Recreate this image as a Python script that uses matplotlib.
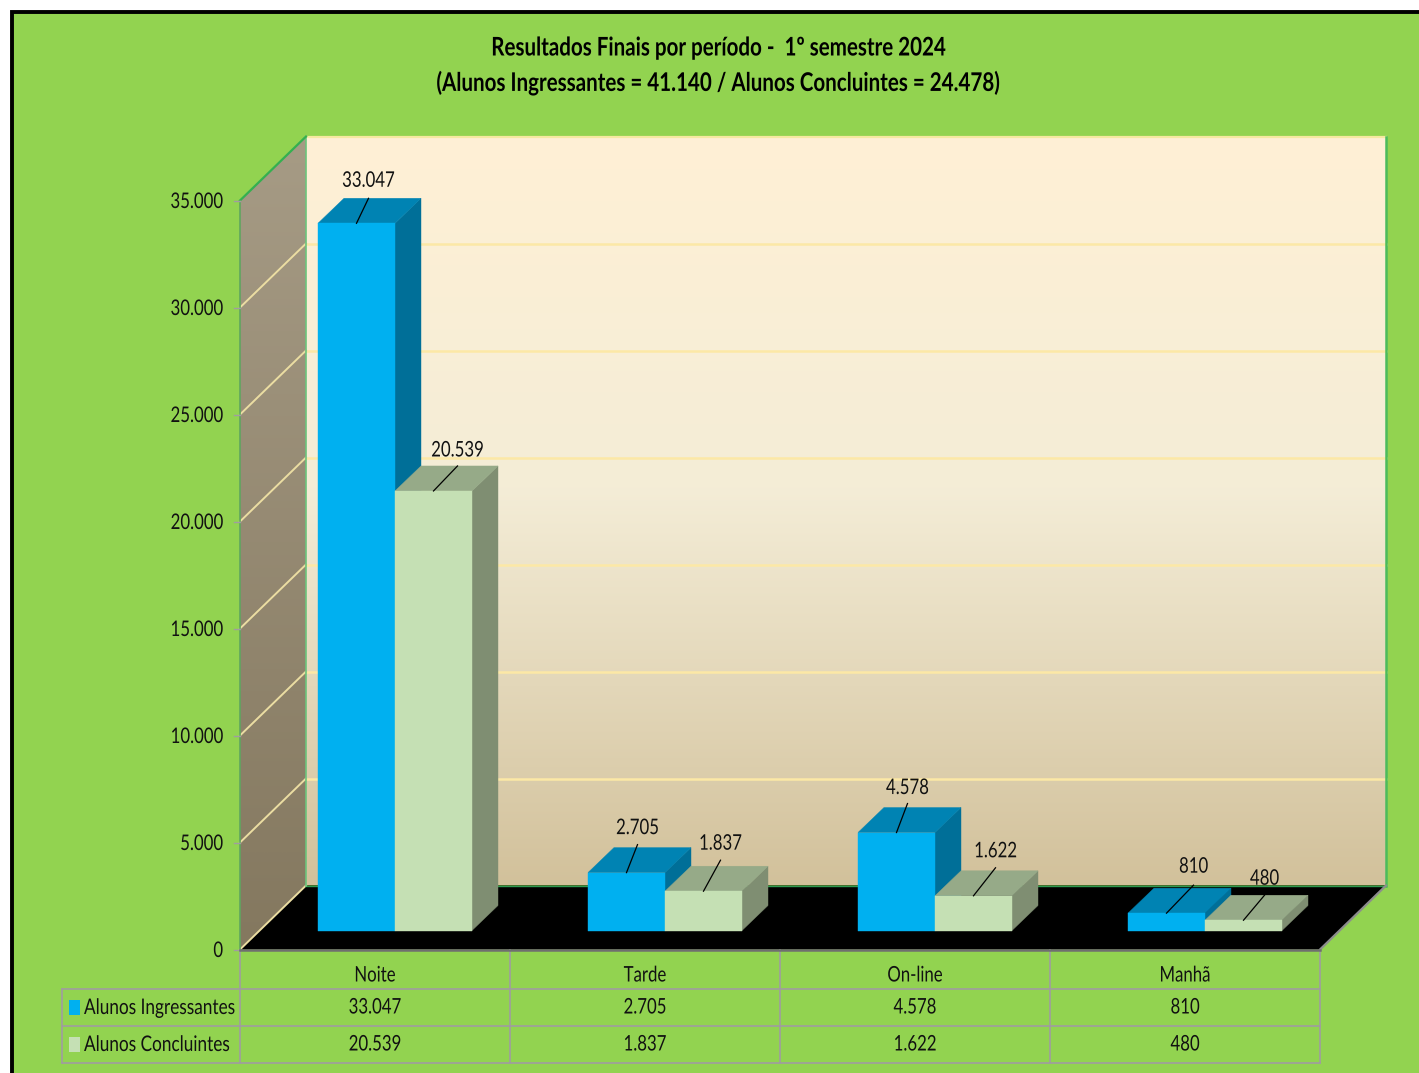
#!/usr/bin/env python3
import matplotlib
matplotlib.use('Agg')
import matplotlib.pyplot as plt
import numpy as np
from matplotlib.colors import LinearSegmentedColormap
from matplotlib.patches import Polygon, Rectangle
from matplotlib.patheffects import AbstractPathEffect
from matplotlib.transforms import Affine2D

plt.rcParams['font.family'] = ['Lato', 'DejaVu Sans']

categories = ['Noite', 'Tarde', 'On-line', 'Manhã']
series_names = ['Alunos Ingressantes', 'Alunos Concluintes']
ingressantes = [33047, 2705, 4578, 810]
concluintes = [20539, 1837, 1622, 480]
y_ticks = [0, 5000, 10000, 15000, 20000, 25000, 30000, 35000]
title_lines = ['Resultados Finais por período -  1º semestre 2024',
               '(Alunos Ingressantes = 41.140 / Alunos Concluintes = 24.478)']

W, H = 1419, 1073
GREEN = '#92D350'
LINE = '#A09CA0'
TEXT = '#111111'

# plot frame in pixels
x0, x1 = 240, 1320
floor_y = 949.5
dx_wall, dy_wall = 66, 64
dx_bar, dy_bar = 26, 25
k = 749 / 35000.0           # px per student
cat_w = (x1 - x0) / 4.0
bar_w = 77
bar_base = 930.5
bar_start = 78              # first bar offset inside its category

styles = [('#00B0F0', '#0083B3', '#006F98'), ('#C5E0B4', '#96AA88', '#7F8E72')]

# leader line end and label position, relative to bar top centre
lead_dx = [[12, 11, 11, 27], [24, 17, 22, 21]]
lead_dy = [[25, 28, 29, 28], [25, 31, 28, 25]]
label_dy = [[43, 45, 45, 47], [41, 48, 45, 42]]


class Squeeze(AbstractPathEffect):
    # the reference font is much narrower than anything installed
    def __init__(self, cx, sx):
        super().__init__()
        self.cx = cx
        self.sx = sx

    def draw_path(self, renderer, gc, tpath, affine, rgbFace=None):
        squeezed = affine + Affine2D().translate(-self.cx, 0).scale(self.sx, 1).translate(self.cx, 0)
        renderer.draw_path(gc, tpath, squeezed, rgbFace)


def fmt(v):
    return f'{v:,}'.replace(',', '.')


def vy(v):
    return floor_y - v * k


def label(ax, x, y, s, ha='center', size=15.5, sx=0.78, **kw):
    t = ax.text(x, y + 0.5, s, ha=ha, va='center', fontsize=size, color=kw.pop('color', TEXT), **kw)
    t.set_path_effects([Squeeze(ax.transData.transform((x, y))[0], sx)])
    return t


def gradient(ax, colors, extent, clip=None, zorder=1):
    cmap = LinearSegmentedColormap.from_list('g', colors)
    im = ax.imshow(np.linspace(0, 1, 256).reshape(-1, 1), cmap=cmap, extent=extent,
                   aspect='auto', zorder=zorder, interpolation='bilinear')
    if clip is not None:
        p = Polygon(clip, closed=True, transform=ax.transData, fc='none', ec='none')
        ax.add_patch(p)
        im.set_clip_path(p)


fig = plt.figure(figsize=(W / 100, H / 100), dpi=100, facecolor='white')
ax = fig.add_axes([0, 0, 1, 1])
ax.set_xlim(0, W)
ax.set_ylim(H, 0)
ax.axis('off')

# chart area with black border, bleeding off the right and the bottom
ax.add_patch(Rectangle((11.5, 11.5), W, H, fc=GREEN, ec='black', lw=2.8, zorder=0))

top = vy(max(y_ticks))
back_l, back_r = x0 + dx_wall, x1 + dx_wall
back_top, back_bot = top - dy_wall, floor_y - dy_wall

# back wall
gradient(ax, [(0, '#FFF0D5'), (0.47, '#F4EDD7'), (1, '#D2C19B')],
         (back_l, back_r, back_bot, back_top))
# left wall
gradient(ax, ['#A69B85', '#84785F'], (x0, back_l, floor_y, back_top),
         clip=[(x0, top), (back_l, back_top), (back_l, back_bot), (x0, floor_y)])
# floor
ax.add_patch(Polygon([(x0, floor_y), (x1, floor_y), (back_r, back_bot), (back_l, back_bot)],
                     fc='black', ec='none', zorder=2))

# grid lines
for t in y_ticks[1:-1]:
    ax.plot([back_l, back_r], [vy(t) - dy_wall] * 2, color='#FCE8A6', lw=1.8, zorder=3)
for t in y_ticks[:-1]:
    ax.plot([x0, back_l], [vy(t), vy(t) - dy_wall], color='#EBDDA2', lw=1.4, zorder=3)

# frame lines
ax.plot([back_l, back_r], [back_top, back_top], color='#F5E9A0', lw=1.6, zorder=3)
ax.plot([back_l, back_r], [back_bot, back_bot], color='#2E9A50', lw=1.0, zorder=3)
ax.plot([back_r, back_r], [back_top, back_bot], color='#4CBB5C', lw=1.8, zorder=3)
ax.plot([back_l, back_l], [back_top, back_bot], color='#6CC47C', lw=1.2, zorder=3)
ax.plot([x0, back_l], [top, back_top], color='#34B050', lw=1.6, zorder=3)
ax.plot([x0, x0], [top, floor_y], color='#5FA65F', lw=1.2, zorder=3)
ax.plot([x0, x1], [floor_y, floor_y], color='#6F6F6F', lw=1.8, zorder=4)
ax.plot([x1, back_r], [floor_y, back_bot], color='#8C8C8C', lw=1.6, zorder=3)

# y ticks
for t in y_ticks:
    ax.plot([x0 - 6, x0], [vy(t)] * 2, color=LINE, lw=1.0, zorder=3)
    label(ax, x0 - 17, vy(t) + 1, fmt(t), ha='right', zorder=8)

# bars
z = 5
for c in range(len(categories)):
    for s, vals in enumerate([ingressantes, concluintes]):
        v = vals[c]
        front, top_c, side = styles[s]
        xl = x0 + c * cat_w + bar_start + s * bar_w
        xr = xl + bar_w
        yt = bar_base - v * k
        ax.add_patch(Polygon([(xr, yt), (xr + dx_bar, yt - dy_bar),
                              (xr + dx_bar, bar_base - dy_bar), (xr, bar_base)],
                             fc=side, ec=side, lw=0.3, zorder=z))
        ax.add_patch(Polygon([(xl, yt), (xl + dx_bar, yt - dy_bar),
                              (xr + dx_bar, yt - dy_bar), (xr, yt)],
                             fc=top_c, ec=top_c, lw=0.3, zorder=z))
        ax.add_patch(Rectangle((xl, yt), bar_w, v * k, fc=front, ec=front, lw=0.3, zorder=z))
        z += 0.01

# data labels with leader lines, on top of all bars
for s, vals in enumerate([ingressantes, concluintes]):
    for c, v in enumerate(vals):
        cx = x0 + c * cat_w + bar_start + s * bar_w + bar_w / 2
        yt = bar_base - v * k
        ax.plot([cx, cx + lead_dx[s][c]], [yt, yt - lead_dy[s][c]], color='black', lw=0.9, zorder=7)
        label(ax, cx + lead_dx[s][c], yt - label_dy[s][c], fmt(v), zorder=8)

# data table
row_y = [floor_y, 989, 1026, 1063]
leg_x = 62
for y in row_y[1:]:
    ax.plot([leg_x, x1], [y, y], color=LINE, lw=1.2, zorder=3)
ax.plot([leg_x, leg_x], [row_y[1], row_y[3]], color=LINE, lw=1.2, zorder=3)
for c in range(len(categories) + 1):
    xv = x0 + c * cat_w
    ax.plot([xv, xv], [row_y[0], row_y[3]], color=LINE, lw=1.2, zorder=3)

for c, name in enumerate(categories):
    xc = x0 + (c + 0.5) * cat_w
    label(ax, xc, 975, name)
    label(ax, xc, 1007, fmt(ingressantes[c]))
    label(ax, xc, 1044, fmt(concluintes[c]))

for s, name in enumerate(series_names):
    ym = (row_y[s + 1] + row_y[s + 2]) / 2
    ax.add_patch(Rectangle((69, ym - 8), 11, 15, fc=styles[s][0], ec='none', zorder=4))
    label(ax, 84, ym, name, ha='left', sx=0.80)

# title
for y, line in zip([47, 82], title_lines):
    label(ax, 719, y, line, size=18.5, sx=0.80, fontweight='bold', color='black')

fig.savefig('out.png', dpi=100, facecolor='white')
